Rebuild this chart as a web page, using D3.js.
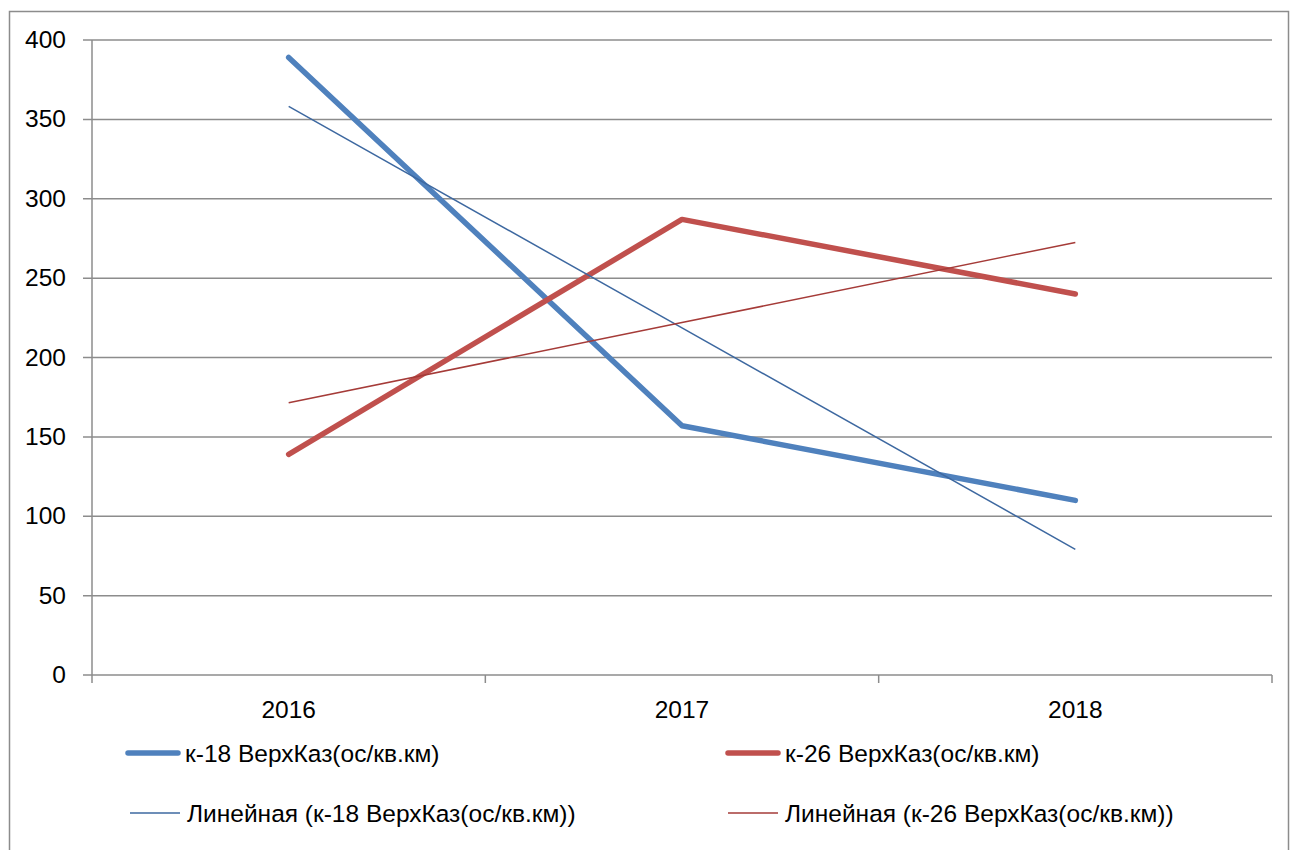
<!DOCTYPE html>
<html>
<head>
<meta charset="utf-8">
<script src="https://cdn.jsdelivr.net/npm/d3@7"></script>
<style>
  body { margin: 0; background: #fff; }
  text { font-family: "Liberation Sans", "DejaVu Sans", sans-serif; fill: #000; }
</style>
</head>
<body>
<svg id="chart" width="1290" height="850"></svg>
<script>
// chart data
var years = ["2016", "2017", "2018"];
var k18 = [389, 157, 110];
var k26 = [139, 287, 240];
var yTicks = [0, 50, 100, 150, 200, 250, 300, 350, 400];
var seriesNames = ["к-18 ВерхКаз(ос/кв.км)", "к-26 ВерхКаз(ос/кв.км)"];

var svg = d3.select("#chart");
var m = {left: 92, top: 40, right: 1272, bottom: 675};
var fs = 24.5;

// outer chart frame
svg.append("rect")
  .attr("x", 9.5).attr("y", 11.5)
  .attr("width", 1279).attr("height", 850)
  .attr("fill", "none").attr("stroke", "#8c8c8c").attr("stroke-width", 1.5);

var x = d3.scaleBand().domain(years).range([m.left, m.right]).padding(0);
var y = d3.scaleLinear().domain([0, 400]).range([m.bottom, m.top]);

// gridlines + y labels
var gy = svg.append("g");
gy.selectAll("line").data(yTicks).enter().append("line")
  .attr("x1", m.left - 9).attr("x2", m.right)
  .attr("y1", function(d){ return y(d); }).attr("y2", function(d){ return y(d); })
  .attr("stroke", "#8c8c8c").attr("stroke-width", 1.5);
gy.selectAll("text").data(yTicks).enter().append("text")
  .attr("x", 66).attr("y", function(d){ return y(d) + 8; })
  .attr("text-anchor", "end").attr("font-size", fs)
  .text(function(d){ return d; });

// y axis line
svg.append("line")
  .attr("x1", m.left).attr("x2", m.left).attr("y1", m.top).attr("y2", m.bottom)
  .attr("stroke", "#8c8c8c").attr("stroke-width", 1.5);

// category ticks
var tickX = years.map(function(d){ return x(d); }).concat([m.right]);
svg.selectAll(".xtick").data(tickX).enter().append("line")
  .attr("class", "xtick")
  .attr("x1", function(d){ return d; }).attr("x2", function(d){ return d; })
  .attr("y1", m.bottom).attr("y2", m.bottom + 8)
  .attr("stroke", "#8c8c8c").attr("stroke-width", 1.5);

svg.selectAll(".xlab").data(years).enter().append("text")
  .attr("class", "xlab")
  .attr("x", function(d){ return x(d) + x.bandwidth() / 2; })
  .attr("y", 718)
  .attr("text-anchor", "middle").attr("font-size", fs)
  .text(function(d){ return d; });

function cx(i){ return x(years[i]) + x.bandwidth() / 2; }

// linear trend (least squares), like Excel's "Линейная"
function trend(vals){
  var n = vals.length, xs = d3.range(1, n + 1);
  var mx = d3.mean(xs), my = d3.mean(vals);
  var b = d3.sum(xs, function(v, i){ return (v - mx) * (vals[i] - my); }) /
          d3.sum(xs, function(v){ return (v - mx) * (v - mx); });
  return xs.map(function(v){ return my + b * (v - mx); });
}

var line = d3.line().x(function(d, i){ return cx(i); }).y(function(d){ return y(d); });

var series = [
  {vals: k18, color: "#4f81bd", trendColor: "#3d68a0"},
  {vals: k26, color: "#c0504d", trendColor: "#a53b38"}
];

series.forEach(function(s){
  svg.append("path").datum(s.vals)
    .attr("d", line).attr("fill", "none")
    .attr("stroke", s.color).attr("stroke-width", 5.5)
    .attr("stroke-linejoin", "round").attr("stroke-linecap", "round");
});
series.forEach(function(s){
  svg.append("path").datum(trend(s.vals))
    .attr("d", line).attr("fill", "none")
    .attr("stroke", s.trendColor).attr("stroke-width", 1.5);
});

// legend
var legend = [
  {x: 128, y: 753, w: 5.5, color: series[0].color, label: seriesNames[0], cap: "round"},
  {x: 728, y: 753, w: 5.5, color: series[1].color, label: seriesNames[1], cap: "round"},
  {x: 130, y: 813, w: 1.5, color: series[0].trendColor, label: "Линейная (" + seriesNames[0] + ")", cap: "butt"},
  {x: 728, y: 813, w: 1.5, color: series[1].trendColor, label: "Линейная (" + seriesNames[1] + ")", cap: "butt"}
];
var lg = svg.selectAll(".leg").data(legend).enter().append("g").attr("class", "leg");
lg.append("line")
  .attr("x1", function(d){ return d.x; }).attr("x2", function(d){ return d.x + 50; })
  .attr("y1", function(d){ return d.y; }).attr("y2", function(d){ return d.y; })
  .attr("stroke", function(d){ return d.color; })
  .attr("stroke-width", function(d){ return d.w; })
  .attr("stroke-linecap", function(d){ return d.cap; });
lg.append("text")
  .attr("x", function(d){ return d.x + 57; })
  .attr("y", function(d){ return d.y + 9; })
  .attr("font-size", fs)
  .text(function(d){ return d.label; });
</script>
</body>
</html>
